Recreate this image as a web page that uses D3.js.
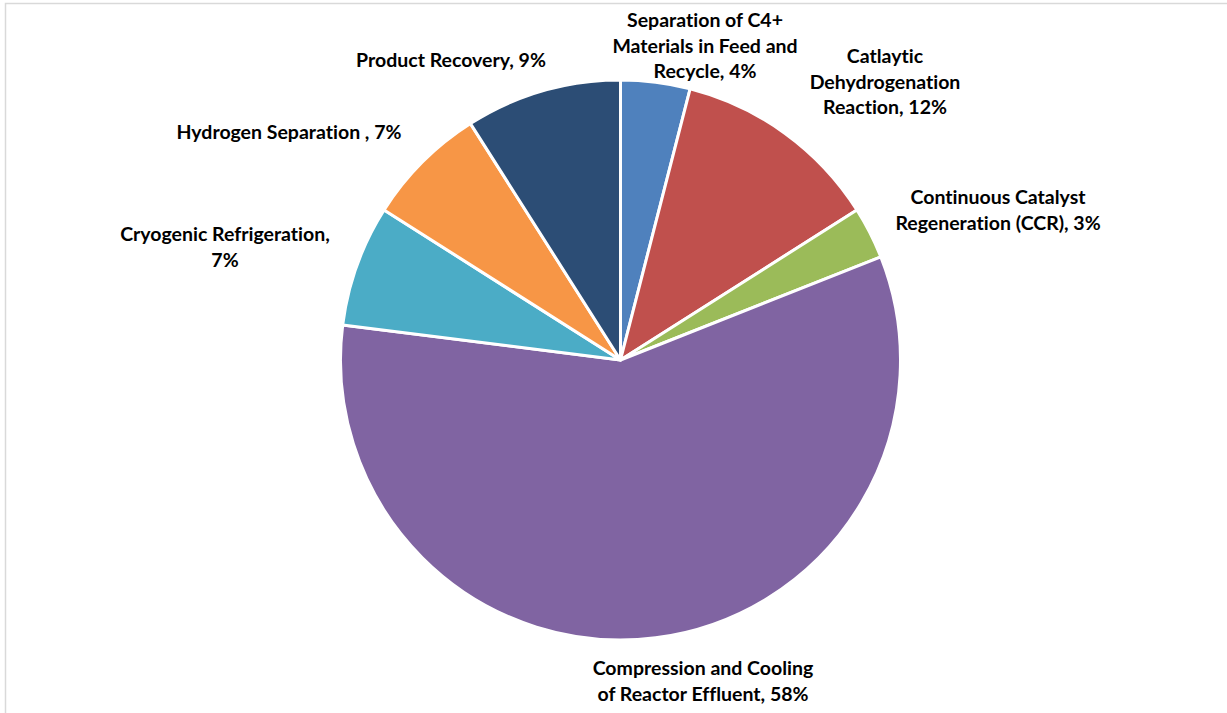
<!DOCTYPE html>
<html>
<head>
<meta charset="utf-8">
<script src="https://cdn.jsdelivr.net/npm/d3@7"></script>
<style>
  html, body { margin: 0; padding: 0; background: #fff; }
  svg { display: block; }
  .lbl {
    font-family: Lato, "Open Sans", sans-serif; font-weight: 700; font-size: 19.5px; fill: #000;
    font-variant-ligatures: none; font-feature-settings: "liga" 0, "clig" 0;
  }
</style>
</head>
<body>
<svg id="chart" width="1227" height="713"></svg>
<script>
// Energy share by process step (clockwise from 12 o'clock)
const categories = [
  "Separation of C4+ Materials in Feed and Recycle",
  "Catlaytic Dehydrogenation Reaction",
  "Continuous Catalyst Regeneration (CCR)",
  "Compression and Cooling of Reactor Effluent",
  "Cryogenic Refrigeration",
  "Hydrogen Separation ",
  "Product Recovery"
];
const values = [4, 12, 3, 58, 7, 7, 9];
const colors = ["#4F81BD", "#C0504D", "#9BBB59", "#8064A2", "#4BACC6", "#F79646", "#2C4D75"];

// Data-label text lines, as wrapped on the chart
const labelLines = [
  ["Separation of C4+", "Materials in Feed and", "Recycle, 4%"],
  ["Catlaytic", "Dehydrogenation", "Reaction, 12%"],
  ["Continuous Catalyst", "Regeneration (CCR), 3%"],
  ["Compression and Cooling", "of Reactor Effluent, 58%"],
  ["Cryogenic Refrigeration,", "7%"],
  ["Hydrogen Separation , 7%"],
  ["Product Recovery, 9%"]
];

// Label anchor layout: centre x and first baseline y
const labelPos = [
  [705, 27], [885, 63], [998, 204], [703, 675], [225, 241], [289, 139], [451, 67]
];
const lineGap = 25.5;

const svg = d3.select("#chart");

// chart area frame
svg.append("rect")
  .attr("x", 5.5).attr("y", 3.5)
  .attr("width", 1240).attr("height", 730)
  .attr("fill", "none")
  .attr("stroke", "#d9d9d9")
  .attr("stroke-width", 1.5);

const cx = 620.5, cy = 360, r = 280;

const pie = d3.pie().sort(null).value(d => d)
  .startAngle(0).endAngle(2 * Math.PI);
const arc = d3.arc().innerRadius(0).outerRadius(r);

const g = svg.append("g").attr("transform", `translate(${cx},${cy})`);
g.selectAll("path.slice")
  .data(pie(values))
  .join("path")
  .attr("class", "slice")
  .attr("d", arc)
  .attr("fill", (d, i) => colors[i])
  .attr("stroke", "#fff")
  .attr("stroke-width", 3)
  .attr("stroke-linejoin", "round");

const labels = svg.append("g");
labelLines.forEach((lines, i) => {
  const t = labels.append("text")
    .attr("class", "lbl")
    .attr("text-anchor", "middle")
    .attr("x", labelPos[i][0])
    .attr("y", labelPos[i][1]);
  lines.forEach((ln, j) => {
    t.append("tspan")
      .attr("x", labelPos[i][0])
      .attr("y", labelPos[i][1] + j * lineGap)
      .text(ln);
  });
});
</script>
</body>
</html>
